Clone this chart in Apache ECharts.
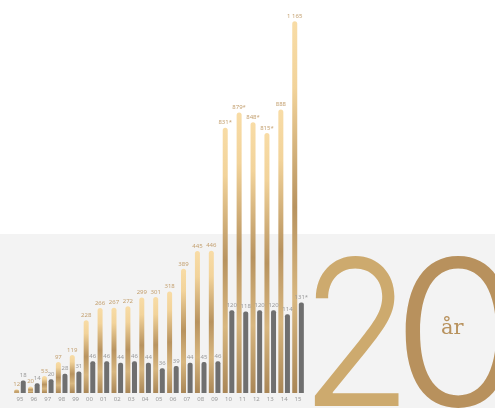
<!DOCTYPE html>
<html><head><meta charset="utf-8">
<script src="https://cdn.jsdelivr.net/npm/echarts@6/dist/echarts.min.js"></script>
<style>html,body{margin:0;padding:0;background:#fff}#c{width:495px;height:408px}</style>
</head><body><div id="c"></div>
<script>
var categories = ['95','96','97','98','99','00','01','02','03','04','05','06','07','08','09','10','11','12','13','14','15'];
var goldValues = [12,20,53,97,119,228,266,267,272,299,301,318,389,445,446,831,879,848,815,888,1165];
var goldNotes  = ['','','','','','','','','','','','','','','','*','*','*','*','',''];
var grayValues = [18,14,20,28,31,46,46,44,46,44,36,39,44,45,46,120,118,120,120,114,131];
var grayNotes  = ['','','','','','','','','','','','','','','','','','','','','*'];

function fmtNum(v){ var s=String(v); return s.length>3 ? s.slice(0,s.length-3)+' '+s.slice(-3) : s; }

var chart = echarts.init(document.getElementById('c'), null, {renderer:'canvas'});
var goldGrad = new echarts.graphic.LinearGradient(0,0,0,1,[
  {offset:0,color:'#f8dca6'},{offset:0.18,color:'#f2d39a'},{offset:0.5,color:'#b8935f'},
  {offset:0.75,color:'#d8b780'},{offset:1,color:'#a98656'}]);

chart.setOption({
  animation:false,
  backgroundColor:'#ffffff',
  graphic:[
    {type:'rect', z:-10, silent:true, shape:{x:0,y:234,width:495,height:174}, style:{fill:'#f3f3f3'}},
    {type:'text', z:-5, x:300, y:243, scaleX:0.9, style:{text:'2', font:'300 204px Inter', fill:'#cdaa6e'}},
    {type:'text', z:-5, x:392, y:243, scaleX:1.05, style:{text:'0', font:'300 204px Inter', fill:'#b8915d'}},
    {type:'text', z:1, x:441, y:318, style:{text:'år', font:'21px "DejaVu Serif"', fill:'#b8925e'}}
  ],
  grid:{left:13, width:292, top:10, height:383},
  xAxis:{type:'category', data:categories, axisLine:{show:false}, axisTick:{show:false},
    axisLabel:{fontSize:6, color:'#9a9a9a', margin:3, fontFamily:'Noto Sans'}},
  yAxis:[{type:'value', min:0, max:1200, show:false, splitLine:{show:false}},
         {type:'value', min:0, max:555, show:false, splitLine:{show:false}}],
  series:[
    {type:'bar', yAxisIndex:0, data:goldValues, barWidth:5, barGap:'32%',
     itemStyle:{color:goldGrad, borderRadius:[2.5,2.5,0,0]},
     label:{show:true, position:'top', distance:2, fontSize:6, color:'#c4a171', fontFamily:'Noto Sans',
       formatter:function(p){return fmtNum(p.value)+goldNotes[p.dataIndex];}}},
    {type:'bar', yAxisIndex:1, data:grayValues, barWidth:5,
     itemStyle:{color:'#6f6f6f', borderRadius:[2,2,0,0]},
     label:{show:true, position:'top', distance:2, fontSize:6, color:'#9a9a9a', fontFamily:'Noto Sans',
       formatter:function(p){return fmtNum(p.value)+grayNotes[p.dataIndex];}}}
  ]
});
</script></body></html>
